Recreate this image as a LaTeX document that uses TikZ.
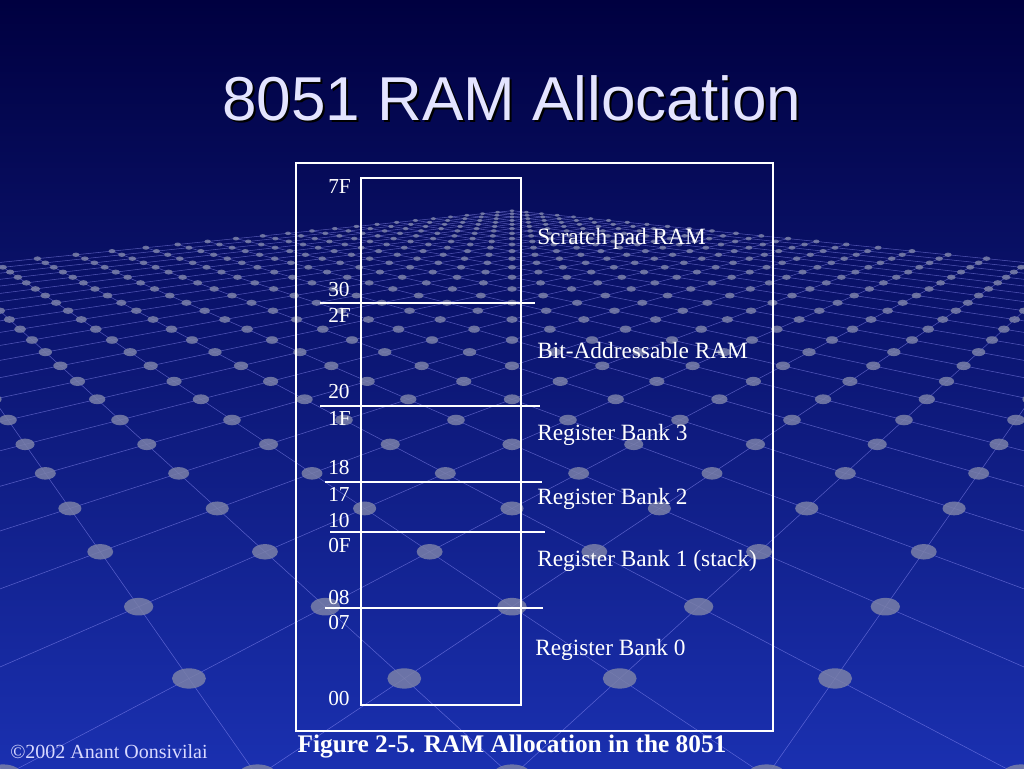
\documentclass[tikz,border=0pt]{standalone}
\usepackage{fontspec}
\setmainfont{Liberation Serif}
\newfontfamily\titlefont{Liberation Sans}
\definecolor{bgtop}{HTML}{000040}
\definecolor{bgbot}{HTML}{1A30B0}
\definecolor{dotc}{HTML}{7A80A8}
\definecolor{titlec}{HTML}{E4E4FF}
\tikzset{
 lab/.style={text=white,font=\fontsize{17.5}{18}\selectfont,anchor=west,inner sep=0pt},
 addr/.style={text=white,font=\fontsize{16}{17}\selectfont,anchor=west,inner sep=0pt},
 sep/.style={draw=white,line width=1.2pt},
 gridl/.style={draw=white!60!blue,line width=0.4pt,opacity=0.5}
}
\begin{document}
\begin{tikzpicture}[x=0.75pt,y=-0.75pt]
\useasboundingbox (0,0) rectangle (1024,768);
\shade[top color=bgtop,bottom color=bgbot] (0,0) rectangle (1024,768);
\begin{scope}
\clip (0,145) rectangle (1024,768);
\foreach \u in {0,...,24}{
  \draw[gridl] ({512+700*0.2*(\u-0)/(0.3+0.2*(\u+0))},{140+700/(0.3+0.2*(\u+0))}) -- ({512+700*0.2*(\u-24)/(0.3+0.2*(\u+24))},{140+700/(0.3+0.2*(\u+24))});
  \draw[gridl] ({512+700*0.2*(0-\u)/(0.3+0.2*(\u+0))},{140+700/(0.3+0.2*(\u+0))}) -- ({512+700*0.2*(24-\u)/(0.3+0.2*(\u+24))},{140+700/(0.3+0.2*(\u+24))});
}
\foreach \u in {0,...,24}{
 \foreach \v in {0,...,24}{
  \pgfmathsetmacro{\Z}{0.3+0.2*(\u+\v)}
  \pgfmathsetmacro{\X}{512+700*0.2*(\u-\v)/\Z}
  \pgfmathsetmacro{\Y}{140+700/\Z}
  \pgfmathsetmacro{\R}{22/\Z}
  \fill[dotc,opacity=0.85] (\X,\Y) ellipse [x radius=\R*0.75pt,y radius=\R*0.45pt];
 }}
\end{scope}
\node[text=black,font=\titlefont\fontsize{46.5}{50}\selectfont] at (514,100) {8051 RAM Allocation};
\node[text=titlec,font=\titlefont\fontsize{46.5}{50}\selectfont] (title) at (512,98) {8051 RAM Allocation};
\draw[white,line width=1.5pt] (296,163) rectangle (773,731);
\draw[white,line width=1.5pt] (361,178) rectangle (521,705);
\draw[sep] (320,303) -- (535,303);
\draw[sep] (320,406) -- (540,406);
\draw[sep] (325,482) -- (542,482);
\draw[sep] (330,532) -- (545,532);
\draw[sep] (325,608) -- (543,608);
\foreach \t/\y [count=\i] in {7F/187,30/290,2F/315,20/392,1F/418,18/468,17/494,10/520,0F/546,08/597,07/622,00/698}
  \node[addr] (l\i) at (328,\y) {\t};
\node[lab] (r1) at (537,239) {Scratch pad RAM};
\node[lab] (r2) at (537,351) {Bit-Addressable RAM};
\node[lab] (r3) at (537,435) {Register Bank 3};
\node[lab] (r4) at (537,499) {Register Bank 2};
\node[lab] (r5) at (537,561) {Register Bank 1 (stack)};
\node[lab] (r6) at (535,650) {Register Bank 0};
\node[text=white,font=\bfseries\fontsize{19}{20}\selectfont] (cap) at (512,746) {Figure 2-5. RAM Allocation in the 8051};
\node[text=white!85!blue,font=\fontsize{15}{16}\selectfont,anchor=west,inner sep=0pt] (foot) at (10,752) {©2002 Anant Oonsivilai};
\end{tikzpicture}
\end{document}
